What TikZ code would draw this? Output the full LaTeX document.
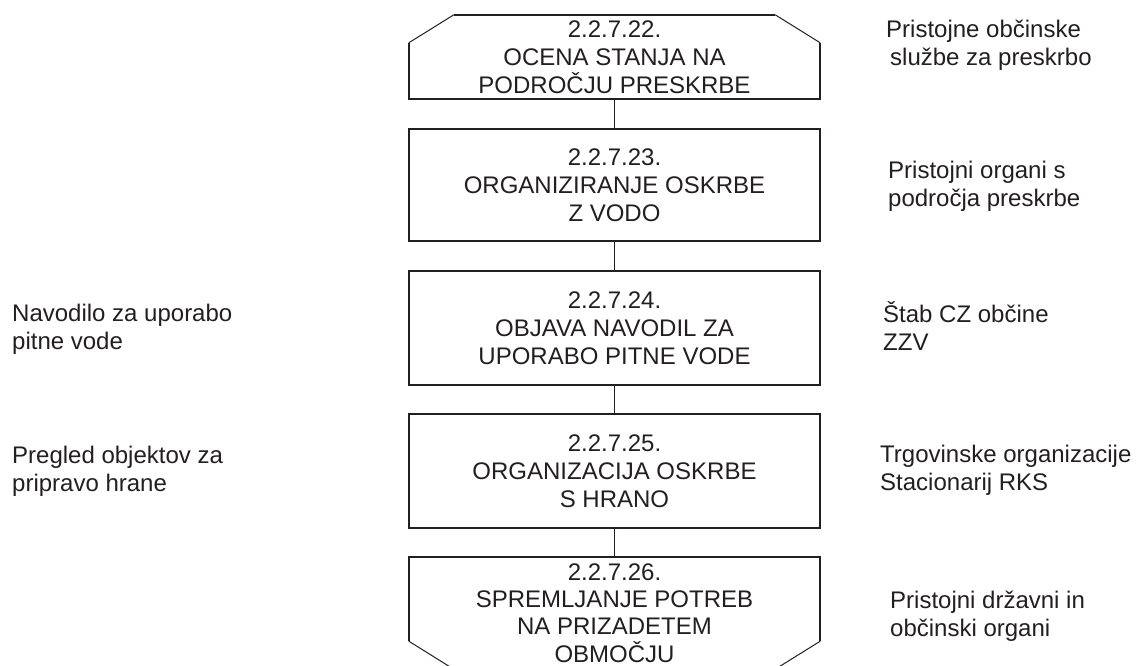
\documentclass[tikz,border=0pt]{standalone}
\usepackage{fontspec}
\setmainfont{Liberation Sans}
\usetikzlibrary{calc}
\definecolor{ink}{HTML}{231F20}
\tikzset{
  boxtext/.style={align=center, inner sep=0pt, text=ink,
    font=\fontsize{24}{28}\selectfont, minimum width=411pt},
  plainbox/.style={boxtext, draw=ink, line width=1.8pt},
  sidetext/.style={align=left, inner sep=0pt, anchor=west, text=ink,
    font=\fontsize{24}{28}\selectfont},
  edge/.style={draw=ink, line width=1.8pt},
  chamfer/.style={draw=ink, line width=1pt}
}
\begin{document}
\begin{tikzpicture}[x=1pt,y=-1pt]
\useasboundingbox[fill=white] (0,0) rectangle (1137,666);
% boxes
\node[boxtext, minimum height=84pt] (b1) at (614.5,57) {2.2.7.22.\\OCENA STANJA NA\\PODROČJU PRESKRBE};
\node[plainbox, minimum height=112pt] (b2) at (614.5,185) {2.2.7.23.\\ORGANIZIRANJE OSKRBE\\Z VODO};
\node[plainbox, minimum height=114pt] (b3) at (614.5,328) {2.2.7.24.\\OBJAVA NAVODIL ZA\\UPORABO PITNE VODE};
\node[plainbox, minimum height=114pt] (b4) at (614.5,471) {2.2.7.25.\\ORGANIZACIJA OSKRBE\\S HRANO};
\node[boxtext, minimum height=112pt, font=\fontsize{24}{27.4}\selectfont] (b5) at (614.5,613) {2.2.7.26.\\SPREMLJANJE POTREB\\NA PRIZADETEM\\OBMOČJU};
% chamfered outlines
\draw[edge] ($(b1.north west)+(0,28)$) -- (b1.south west) -- (b1.south east) -- ($(b1.north east)+(0,28)$);
\draw[chamfer] ($(b1.north west)+(0,28)$) -- ($(b1.north west)+(45,0)$);
\draw[edge] ($(b1.north west)+(45,0)$) -- ($(b1.north east)+(-45,0)$);
\draw[chamfer] ($(b1.north east)+(-45,0)$) -- ($(b1.north east)+(0,28)$);
\draw[edge] ($(b5.south west)+(0,-28)$) -- (b5.north west) -- (b5.north east) -- ($(b5.south east)+(0,-28)$);
\draw[chamfer] ($(b5.south west)+(0,-28)$) -- ($(b5.south west)+(45,0)$);
\draw[chamfer] ($(b5.south east)+(0,-28)$) -- ($(b5.south east)+(-45,0)$);
% connectors
\draw[edge] (b1.south) -- (b2.north);
\draw[edge] (b2.south) -- (b3.north);
\draw[edge] (b3.south) -- (b4.north);
\draw[edge] (b4.south) -- (b5.north);
% side texts
\node[sidetext] (r1) at (886,45) {Pristojne občinske\\\hspace*{4pt}službe za preskrbo};
\node[sidetext] (r2) at (888,186) {Pristojni organi s\\področja preskrbe};
\node[sidetext] (r3) at (883,326) {Štab CZ občine\\ZZV};
\node[sidetext] (r4) at (880,470) {Trgovinske organizacije\\Stacionarij RKS};
\node[sidetext] (r5) at (890,616) {Pristojni državni in\\občinski organi};
\node[sidetext] (l1) at (12,329) {Navodilo za uporabo\\pitne vode};
\node[sidetext] (l2) at (12,471) {Pregled objektov za\\pripravo hrane};
\end{tikzpicture}
\end{document}
